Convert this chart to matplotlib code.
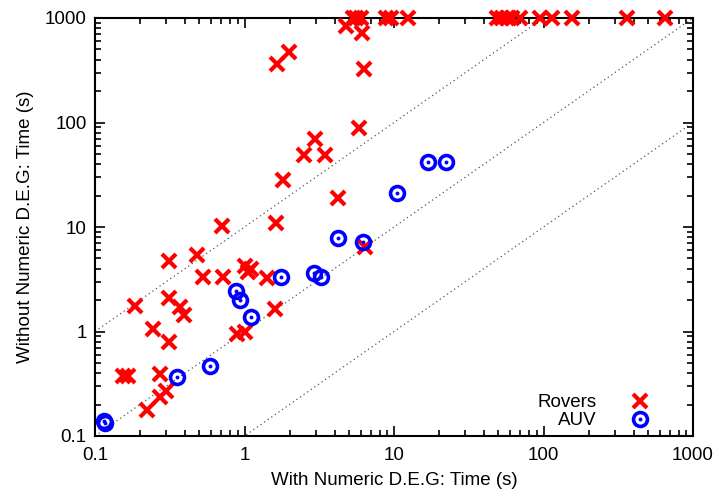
import numpy as np
import matplotlib
matplotlib.use("Agg")
import matplotlib.pyplot as plt
from matplotlib.ticker import FuncFormatter, LogLocator
from matplotlib.legend_handler import HandlerTuple

plt.rcParams['font.family'] = ['Liberation Sans', 'DejaVu Sans']

# Rovers: (with numeric D.E.G, without numeric D.E.G) in seconds
rovers_x = [5.3, 5.6, 6.0, 8.8, 9.6, 12.4, 49, 53, 57, 61.5, 70, 95, 114, 155, 362, 650,
            4.77, 6.1, 1.98, 1.65, 6.3, 5.83, 2.96, 2.5, 3.45, 1.81, 4.22, 0.707, 1.62,
            0.313, 0.481, 0.528, 0.718, 1.0, 1.05, 1.1, 1.41, 1.6, 0.185, 0.313, 0.371,
            0.394, 0.244, 0.313, 0.89, 1.0, 0.154, 0.166, 0.272, 0.299, 0.272, 0.223, 6.4]
rovers_y = [1000, 1000, 1000, 1000, 1000, 1000, 1000, 1000, 1000, 1000, 1000, 1000, 1000,
            1000, 1000, 1000,
            838, 718, 473, 363, 325, 88.5, 69.5, 48.9, 48.9, 28, 19, 10.2, 10.9,
            4.73, 5.4, 3.33, 3.33, 4.2, 3.7, 4.0, 3.25, 1.64, 1.75, 2.1, 1.71,
            1.44, 1.06, 0.795, 0.946, 0.99, 0.375, 0.375, 0.392, 0.27, 0.236, 0.177, 6.4]

# AUV
auv_x = [0.115, 0.117, 0.353, 0.587, 0.874, 0.93, 1.1, 1.75, 2.92, 3.25, 4.22, 6.2, 10.5, 16.9, 22.3]
auv_y = [0.14, 0.132, 0.367, 0.468, 2.44, 2.0, 1.38, 3.33, 3.63, 3.33, 7.85, 7.18, 21.1, 41.9, 41.9]

fig = plt.figure(figsize=(7.19, 5.04), dpi=100)
ax = fig.add_axes([95 / 719, 1 - 436 / 504, (693 - 95) / 719, (436 - 18) / 504])

# reference lines y = 10x, y = x, y = x/10
xs = np.array([0.1, 1000])
for f in (10, 1, 0.1):
    ax.plot(xs, xs * f, ls=(0, (1, 2.5)), color='#555555', lw=0.9, zorder=1)

rov, = ax.plot(rovers_x, rovers_y, ls='none', marker='x', ms=10, mew=3,
               color='#ff0000', clip_on=False, zorder=3)
circ, = ax.plot(auv_x, auv_y, ls='none', marker='o', ms=10, mew=2.6,
                mfc='none', mec='#0000ff', clip_on=False, zorder=4)
dot, = ax.plot(auv_x, auv_y, ls='none', marker='o', ms=2.8, mew=0,
               color='#0000ff', clip_on=False, zorder=4)

ax.set_xscale('log')
ax.set_yscale('log')
ax.set_xlim(0.1, 1000)
ax.set_ylim(0.1, 1000)

fmt = FuncFormatter(lambda v, p: '%g' % v)
ax.xaxis.set_major_formatter(fmt)
ax.yaxis.set_major_formatter(fmt)
ax.xaxis.set_minor_locator(LogLocator(base=10, subs=np.arange(2, 10), numticks=20))
ax.yaxis.set_minor_locator(LogLocator(base=10, subs=np.arange(2, 10), numticks=20))
ax.tick_params(which='both', direction='in', top=True, right=True, labelsize=13.5)
ax.tick_params(which='major', length=7, width=1.2)
ax.tick_params(which='minor', length=4, width=1.2)
ax.tick_params(axis='x', pad=8)
ax.tick_params(axis='y', pad=6)
for s in ax.spines.values():
    s.set_linewidth(1.5)

ax.set_xlabel('With Numeric D.E.G: Time (s)', fontsize=13.5, labelpad=6)
ax.set_ylabel('Without Numeric D.E.G: Time (s)', fontsize=13.5, labelpad=8)

leg = ax.legend([rov, (circ, dot)], ['Rovers', 'AUV'],
                handler_map={tuple: HandlerTuple(ndivide=1, pad=0)},
                loc='lower right', bbox_to_anchor=(0.955, -0.02), markerfirst=False,
                frameon=False, fontsize=13.5, handlelength=1.2, handletextpad=1.7,
                labelspacing=0.05, borderpad=0.3)
for t in leg.get_texts():
    t.set_ha('right')

fig.savefig('out.png', dpi=100)
